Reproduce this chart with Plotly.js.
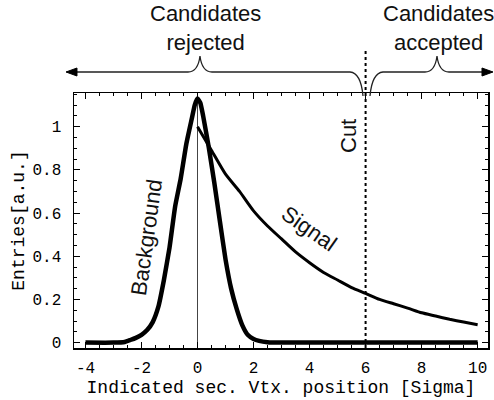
<!DOCTYPE html>
<html>
<head>
<meta charset="utf-8">
<script src="https://cdn.plot.ly/plotly-3.0.1.min.js"></script>
<style>html,body{margin:0;padding:0;background:#fff;}#chart{width:494px;height:400px;}</style>
</head>
<body>
<div id="chart"></div>
<script>
// ---- data ----
const bgX = [-4, -3, -2.6, -2.4, -2.2, -2.0, -1.8, -1.6, -1.4, -1.2, -1.0, -0.8, -0.6, -0.4, -0.2, -0.1, 0, 0.1, 0.2, 0.4, 0.6, 0.8, 1.0, 1.2, 1.4, 1.6, 1.8, 2.0, 2.2, 2.5, 3, 4, 6, 8, 10];
const bgY = [0, 0, 0.003, 0.012, 0.022, 0.036, 0.058, 0.095, 0.165, 0.29, 0.44, 0.63, 0.76, 0.92, 1.04, 1.10, 1.13, 1.11, 1.05, 0.905, 0.74, 0.56, 0.385, 0.25, 0.155, 0.08, 0.035, 0.017, 0.008, 0.002, 0, 0, 0, 0, 0];
const sigX = [0, 0.5, 1, 1.5, 2, 2.5, 3, 3.5, 4, 4.5, 5, 5.5, 6, 6.5, 7, 7.5, 8, 8.5, 9, 9.5, 10];
const sigY = [1.0, 0.89, 0.78, 0.70, 0.61, 0.54, 0.48, 0.42, 0.37, 0.325, 0.29, 0.255, 0.228, 0.20, 0.18, 0.16, 0.138, 0.123, 0.108, 0.095, 0.083];
const cutX = 6;
const xTickVals = [-4, -2, 0, 2, 4, 6, 8, 10];
const xTickText = ['-4', '-2', '0', '2', '4', '6', '8', '10'];
const yTickVals = [0, 0.2, 0.4, 0.6, 0.8, 1];
const yTickText = ['0', '0.2', '0.4', '0.6', '0.8', '1'];
const xRange = [-4.41, 10.37];
const yRange = [-0.025, 1.156];

// ---- layout geometry ----
const W = 494, H = 400;
const M = {l: 74, r: 6, t: 93, b: 52};
const PW = W - M.l - M.r, PH = H - M.t - M.b;
const px = v => (v - M.l) / PW;
const py = v => (H - M.b - v) / PH;
function path(cmds) {
  return cmds.map(c => c[0] + ' ' + c.slice(1).reduce((s, v, i, a) => {
    if (i % 2 === 0) s.push(px(v).toFixed(4) + ',' + py(a[i + 1]).toFixed(4));
    return s;
  }, []).join(' ')).join(' ');
}
const cutPaper = (cutX - xRange[0]) / (xRange[1] - xRange[0]);

const labelFont = {family: 'Liberation Sans, Arial, sans-serif', size: 22, color: '#111'};
const monoFont = {family: 'Liberation Mono, Courier New, monospace', size: 16, color: '#000'};

const traces = [
  {x: bgX, y: bgY, mode: 'lines', line: {color: '#000', width: 4.5, shape: 'spline', smoothing: 0.4}, hoverinfo: 'skip'},
  {x: sigX, y: sigY, mode: 'lines', line: {color: '#000', width: 3, shape: 'spline', smoothing: 0.6}, hoverinfo: 'skip'}
];

function label(x, y, text, angle) {
  return {xref: 'paper', yref: 'paper', x: px(x), y: py(y), xanchor: 'center', yanchor: 'middle',
          text: text, showarrow: false, font: labelFont, align: 'center', textangle: angle || 0};
}

const layout = {
  width: W, height: H,
  margin: M,
  paper_bgcolor: '#fff', plot_bgcolor: '#fff',
  showlegend: false,
  xaxis: {
    range: xRange, tickvals: xTickVals, ticktext: xTickText,
    ticks: 'inside', ticklen: 6, tickwidth: 1, tickcolor: '#000',
    minor: {dtick: 0.5, ticks: 'inside', ticklen: 3, tickcolor: '#000', showgrid: false},
    showline: true, linecolor: '#000', linewidth: 1.5, mirror: 'allticks',
    showgrid: false, zeroline: true, zerolinecolor: '#444', zerolinewidth: 1,
    tickfont: monoFont, ticklabelstandoff: 4,
    title: {text: 'Indicated sec. Vtx. position [Sigma]', font: {family: monoFont.family, size: 18, color: '#000'}, standoff: 3}
  },
  yaxis: {
    range: yRange, tickvals: yTickVals, ticktext: yTickText,
    ticks: 'inside', ticklen: 6, tickwidth: 1, tickcolor: '#000',
    minor: {dtick: 0.05, ticks: 'inside', ticklen: 3, tickcolor: '#000', showgrid: false},
    showline: true, linecolor: '#000', linewidth: 1.5, mirror: 'allticks',
    showgrid: false, zeroline: false,
    tickfont: monoFont, ticklabelstandoff: 8,
    title: {text: 'Entries[a.u.]', font: {family: monoFont.family, size: 18, color: '#000'}, standoff: 3}
  },
  shapes: [
    // cut line
    {type: 'line', xref: 'paper', yref: 'paper', x0: cutPaper, x1: cutPaper, y0: 0, y1: py(48),
     line: {color: '#000', width: 2, dash: 'dot'}},
    // left arrow + brace
    {type: 'path', xref: 'paper', yref: 'paper', line: {color: '#222', width: 1.3},
     path: path([['M', 72, 72], ['L', 188, 72], ['Q', 198, 72, 200, 56], ['Q', 202, 72, 212, 72], ['L', 350, 72], ['Q', 361, 73, 363, 96]])},
    {type: 'path', xref: 'paper', yref: 'paper', fillcolor: '#000', line: {color: '#000', width: 1},
     path: path([['M', 66, 72], ['L', 77, 68], ['L', 77, 76]]) + ' Z'},
    // right brace + arrow
    {type: 'path', xref: 'paper', yref: 'paper', line: {color: '#222', width: 1.3},
     path: path([['M', 370, 96], ['Q', 372, 73, 383, 72], ['L', 425, 72], ['Q', 435, 72, 437, 56], ['Q', 439, 72, 449, 72], ['L', 486, 72]])},
    {type: 'path', xref: 'paper', yref: 'paper', fillcolor: '#000', line: {color: '#000', width: 1},
     path: path([['M', 493, 72], ['L', 482, 68], ['L', 482, 76]]) + ' Z'}
  ],
  annotations: [
    label(205, 28, 'Candidates<br>rejected'),
    label(438, 28, 'Candidates<br>accepted'),
    label(348, 136, 'Cut', -90),
    label(146, 238, 'Background', -82),
    label(309, 228, 'Signal', 35)
  ]
};

Plotly.newPlot('chart', traces, layout, {staticPlot: true, displayModeBar: false});
</script>
</body>
</html>
